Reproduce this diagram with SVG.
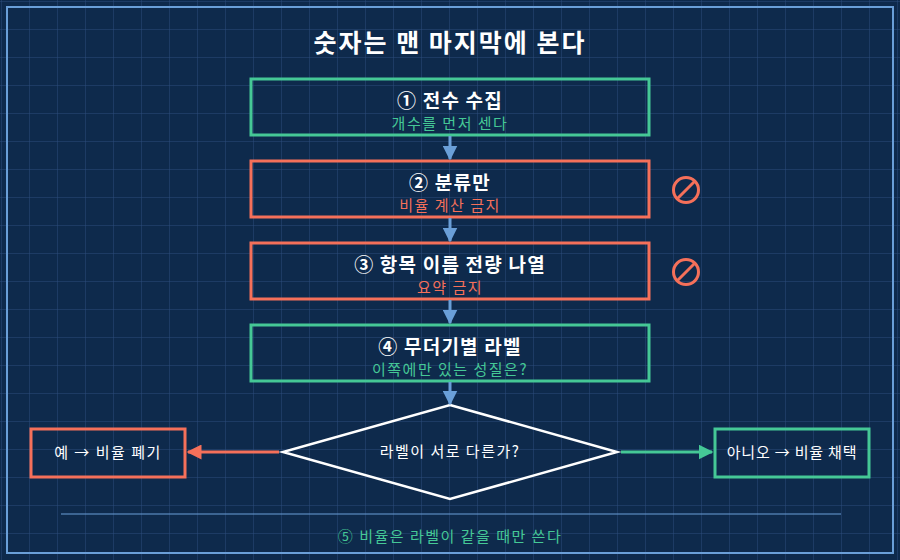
<svg xmlns="http://www.w3.org/2000/svg" width="900" height="560" viewBox="0 0 900 560">
<defs>
<pattern id="grid" width="28" height="28" patternUnits="userSpaceOnUse" x="1" y="1">
<path d="M28 0H0V28" fill="none" stroke="#2c4c7c" stroke-width="1"/>
</pattern>
<marker id="ab" viewBox="0 0 10 10" refX="9" refY="5" markerWidth="5" markerHeight="5" orient="auto"><path d="M0 0L10 5L0 10z" fill="#6a9fd8"/></marker>
<marker id="ag" viewBox="0 0 10 10" refX="9" refY="5" markerWidth="5" markerHeight="5" orient="auto"><path d="M0 0L10 5L0 10z" fill="#45c896"/></marker>
<marker id="ar" viewBox="0 0 10 10" refX="9" refY="5" markerWidth="5" markerHeight="5" orient="auto"><path d="M0 0L10 5L0 10z" fill="#f5705a"/></marker>
</defs>
<style>
text{font-family:"Noto Sans CJK KR","Noto Sans",sans-serif;text-anchor:middle}
.t{fill:#fff;font-size:19px;font-weight:bold;letter-spacing:1.2px}
.s{font-size:15px;letter-spacing:1.5px}
.g{fill:none;stroke:#45c896;stroke-width:3}
.r{fill:none;stroke:#f5705a;stroke-width:3}
.c{stroke:#6a9fd8;stroke-width:3;marker-end:url(#ab)}
</style>
<rect width="900" height="560" fill="#0e2a4c"/>
<rect width="900" height="560" fill="url(#grid)"/>
<rect x="7" y="7" width="886" height="546" fill="none" stroke="#6a9fd8" stroke-width="2"/>
<text x="450" y="52" class="t" style="font-size:25px;letter-spacing:2px">숫자는 맨 마지막에 본다</text>
<g id="n1"><rect x="251" y="79" width="398" height="56" class="g"/><text x="450" y="108" class="t">① 전수 수집</text><text x="450" y="129" class="s" fill="#45c896">개수를 먼저 센다</text></g>
<g id="n2"><rect x="251" y="161" width="398" height="56" class="r"/><text x="450" y="190" class="t">② 분류만</text><text x="450" y="211" class="s" fill="#f5705a">비율 계산 금지</text>
<circle cx="686" cy="190" r="12.5" fill="none" stroke="#f5705a" stroke-width="3"/><line x1="677" y1="199" x2="695" y2="181" stroke="#f5705a" stroke-width="3"/></g>
<g id="n3"><rect x="251" y="243" width="398" height="56" class="r"/><text x="450" y="272" class="t">③ 항목 이름 전량 나열</text><text x="450" y="293" class="s" fill="#f5705a">요약 금지</text>
<circle cx="686" cy="272" r="12.5" fill="none" stroke="#f5705a" stroke-width="3"/><line x1="677" y1="281" x2="695" y2="263" stroke="#f5705a" stroke-width="3"/></g>
<g id="n4"><rect x="251" y="325" width="398" height="56" class="g"/><text x="450" y="354" class="t">④ 무더기별 라벨</text><text x="450" y="375" class="s" fill="#45c896">이쪽에만 있는 성질은?</text></g>
<g id="d"><path d="M450 405L617 452L450 499L283 452Z" fill="none" stroke="#fff" stroke-width="2.5"/><text x="450" y="457" class="s" fill="#fff">라벨이 서로 다른가?</text></g>
<g id="yes"><rect x="31" y="429" width="154" height="48" class="r"/><text x="108" y="458" class="s" fill="#fff">예 → 비율 폐기</text></g>
<g id="no"><rect x="715" y="429" width="154" height="48" class="g"/><text x="792" y="458" class="s" fill="#fff" style="letter-spacing:0.8px">아니오 → 비율 채택</text></g>
<g id="connectors">
<line x1="450" y1="136" x2="450" y2="159" class="c"/>
<line x1="450" y1="218" x2="450" y2="241" class="c"/>
<line x1="450" y1="300" x2="450" y2="323" class="c"/>
<line x1="450" y1="382" x2="450" y2="404" class="c"/>
<line x1="279" y1="452" x2="188" y2="452" stroke="#f5705a" stroke-width="3" marker-end="url(#ar)"/>
<line x1="621" y1="452" x2="712" y2="452" stroke="#45c896" stroke-width="3" marker-end="url(#ag)"/>
</g>
<line x1="61" y1="514" x2="841" y2="514" stroke="#6a9fd8" stroke-width="1"/>
<text x="450" y="542" class="s" fill="#45c896">⑤ 비율은 라벨이 같을 때만 쓴다</text>
</svg>
